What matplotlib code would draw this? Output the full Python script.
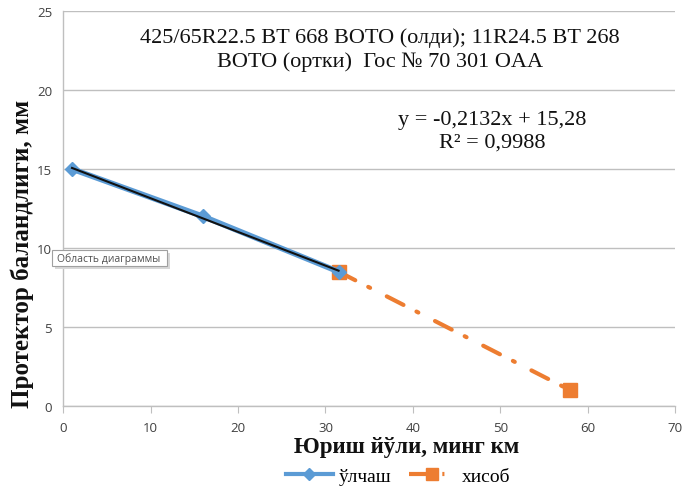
import matplotlib
matplotlib.use("Agg")
import matplotlib.pyplot as plt
import numpy as np
from matplotlib.lines import Line2D
from matplotlib.patches import FancyBboxPatch

# measured tread depth
meas_x = [1, 16, 31.5]
meas_y = [15, 12, 8.5]
# calculated extrapolation
calc_x = [31.5, 58]
calc_y = [8.5, 1]

x_ticks = [0, 10, 20, 30, 40, 50, 60, 70]
y_ticks = [0, 5, 10, 15, 20, 25]

title_lines = "425/65R22.5 BT 668 BOTO (олди); 11R24.5 BT 268\nBOTO (ортки)  Гос № 70 301 OAA"
x_label = "Юриш йўли, минг км"
y_label = "Протектор баландлиги, мм"
legend_labels = ["ўлчаш", "хисоб"]

BLUE = "#5B9BD5"
ORANGE = "#ED7D31"
GRID = "#BFBFBF"
TICKC = "#404040"

serif = "Liberation Serif"
sans = "Open Sans"

fig = plt.figure(figsize=(6.85, 4.89), dpi=100)
ax = fig.add_axes([63.3 / 685, 1 - 407 / 489, (675 - 63.3) / 685, (407 - 12) / 489])

ax.set_xlim(0, 70)
ax.set_ylim(0, 25)
ax.set_xticks(x_ticks)
ax.set_yticks(y_ticks)
ax.yaxis.grid(True, color=GRID, linewidth=1.0)
ax.set_axisbelow(True)
for s in ("top", "right"):
    ax.spines[s].set_visible(False)
for s in ("left", "bottom"):
    ax.spines[s].set_color(GRID)
    ax.spines[s].set_linewidth(1.0)
ax.tick_params(axis="x", direction="out", length=5, color=GRID, labelsize=9.5,
               labelcolor=TICKC, pad=6)
ax.tick_params(axis="y", length=0, labelsize=9.5, labelcolor=TICKC, pad=8)
for lab in ax.get_xticklabels() + ax.get_yticklabels():
    lab.set_fontfamily(sans)

dashdot = (0, (4.5, 3.5, 0.5, 4.5))

# calculated line
ax.plot(calc_x, calc_y, color=ORANGE, linewidth=3, linestyle=dashdot,
        dash_capstyle="round", marker="s", markersize=10,
        markerfacecolor=ORANGE, markeredgecolor=ORANGE, zorder=3, clip_on=False)
# measured line
ax.plot(meas_x, meas_y, color=BLUE, linewidth=4, marker="D", markersize=7,
        markerfacecolor=BLUE, markeredgecolor=BLUE, zorder=4, clip_on=False)

# linear trend over measured points
mx = np.array(meas_x, dtype=float)
my = np.array(meas_y, dtype=float)
slope, intercept = np.polyfit(mx, my, 1)
pred = slope * mx + intercept
r2 = 1 - np.sum((my - pred) ** 2) / np.sum((my - my.mean()) ** 2)
tx = np.array([mx.min(), mx.max()])
ax.plot(tx, slope * tx + intercept, color="#111111", linewidth=1.5, zorder=5)

fig.text(380 / 685, 1 - 50 / 489, title_lines, ha="center", va="center",
         fontsize=16, family=serif, linespacing=1.3, color="#111111")

eq = f"y = {slope:.4f}x + {intercept:.2f}".replace(".", ",")
fig.text(492 / 685, 1 - 120 / 489, eq, ha="center", va="center",
         fontsize=16, family=serif, color="#111111")
fig.text(492 / 685, 1 - 143 / 489, f"R² = {r2:.4f}".replace(".", ","),
         ha="center", va="center", fontsize=16, family=serif, color="#111111")

fig.text(22 / 685, 1 - 254 / 489, y_label, rotation=90, ha="center", va="center",
         fontsize=18, fontweight="bold", family=serif, color="#111111")
fig.text(407 / 685, 1 - 448 / 489, x_label, ha="center", va="center",
         fontsize=16.5, fontweight="bold", family=serif, color="#111111")

# chart-area tooltip
shadow = FancyBboxPatch((55 / 685, 1 - 270 / 489), 115 / 685, 16 / 489,
                        boxstyle="square,pad=0", transform=fig.transFigure,
                        facecolor="#D8D8D8", edgecolor="none", zorder=9)
box = FancyBboxPatch((52 / 685, 1 - 267 / 489), 115 / 685, 16 / 489,
                     boxstyle="square,pad=0", transform=fig.transFigure,
                     facecolor="white", edgecolor="#A0A0A0", linewidth=0.8, zorder=10)
fig.patches.extend([shadow, box])
fig.text(57 / 685, 1 - 259 / 489, "Область диаграммы", ha="left", va="center",
         fontsize=7.5, family=sans, color="#505050", zorder=11)

handles = [
    Line2D([], [], color=BLUE, linewidth=3, marker="D", markersize=6),
    Line2D([], [], color=ORANGE, linewidth=3, linestyle=dashdot, marker="s", markersize=9),
]
fig.legend(handles, legend_labels, loc="center", bbox_to_anchor=(398 / 685, 1 - 477 / 489),
           ncol=2, frameon=False, prop={"family": serif, "size": 14},
           handlelength=2.4, columnspacing=0.9, handletextpad=0.3)

fig.savefig("out.png", dpi=100)
